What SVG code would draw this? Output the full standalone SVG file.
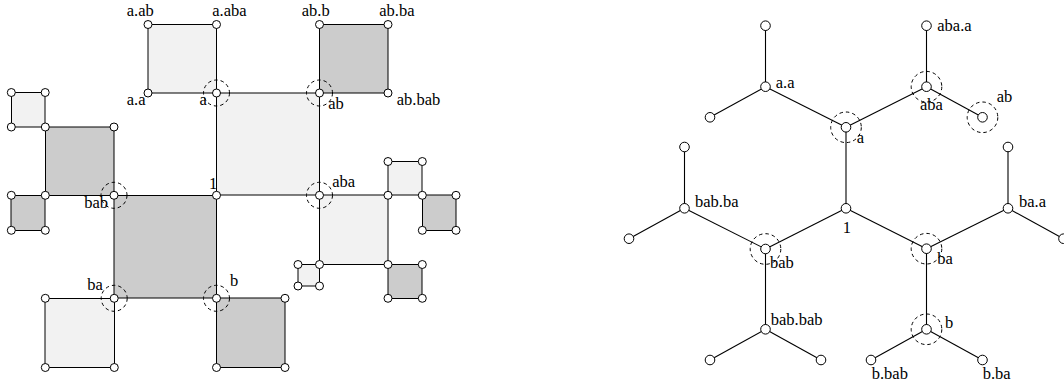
<svg xmlns="http://www.w3.org/2000/svg" width="1064" height="385" viewBox="0 0 1064 385">
<style>
.fl{fill:#f2f2f2;stroke:none}
.fd{fill:#cccccc;stroke:none}
.e{fill:none;stroke:#000;stroke-width:1}
.t{fill:none;stroke:#000;stroke-width:1.1}
.n{fill:#fff;stroke:#000;stroke-width:1}
.hl{fill:none;stroke:#000;stroke-width:1;stroke-dasharray:3.5 3}
text{font-family:"Liberation Serif","Times New Roman",serif;font-size:16.5px;fill:#000}
</style>
<g id="faces">
<rect class="fl" x="216.5" y="93" width="103" height="102"/>
<rect class="fd" x="114" y="195.5" width="102.5" height="102.5"/>
<rect class="fl" x="148" y="24.5" width="68.5" height="68.5"/>
<rect class="fd" x="319.5" y="24.5" width="68.5" height="68.5"/>
<rect class="fd" x="45.5" y="127" width="68.5" height="68.5"/>
<rect class="fl" x="45" y="298.5" width="69.5" height="69"/>
<rect class="fl" x="319.5" y="195" width="68.5" height="69.5"/>
<rect class="fd" x="216.5" y="298" width="68.5" height="69.5"/>
<rect class="fl" x="11.5" y="92.5" width="33.5" height="34.5"/>
<rect class="fd" x="11" y="195.5" width="34" height="35"/>
<rect class="fl" x="388" y="161.5" width="34" height="33.5"/>
<rect class="fd" x="422.5" y="195" width="33.5" height="35.5"/>
<rect class="fd" x="388" y="264.5" width="34" height="34"/>
<rect class="fl" x="298" y="264.5" width="21.5" height="21.5"/>
</g>
<g id="connectors">
<path class="e" d="M216.5 93H319.5V195H216.5Z"/>
<path class="e" d="M114 195.5H216.5V298H114Z"/>
<path class="e" d="M148 24.5H216.5V93H148Z"/>
<path class="e" d="M319.5 24.5H388V93H319.5Z"/>
<path class="e" d="M45.5 127H114V195.5H45.5Z"/>
<path class="e" d="M45 298.5H114.5V367.5H45Z"/>
<path class="e" d="M319.5 195H388V264.5H319.5Z"/>
<path class="e" d="M216.5 298H285V367.5H216.5Z"/>
<path class="e" d="M11.5 92.5H45V127H11.5Z"/>
<path class="e" d="M11 195.5H45V230.5H11Z"/>
<path class="e" d="M388 161.5H422V195H388Z"/>
<path class="e" d="M422.5 195H456V230.5H422.5Z"/>
<path class="e" d="M388 264.5H422V298.5H388Z"/>
<path class="e" d="M298 264.5H319.5V286H298Z"/>
<line class="t" x1="846" y1="208.3" x2="846" y2="127.3"/>
<line class="t" x1="846" y1="208.3" x2="765.5" y2="249"/>
<line class="t" x1="846" y1="208.3" x2="926.5" y2="248.7"/>
<line class="t" x1="846" y1="127.3" x2="765.5" y2="86.7"/>
<line class="t" x1="846" y1="127.3" x2="926.5" y2="86.7"/>
<line class="t" x1="765.5" y1="86.7" x2="765.5" y2="25.7"/>
<line class="t" x1="765.5" y1="86.7" x2="710" y2="117.3"/>
<line class="t" x1="926.5" y1="86.7" x2="926.5" y2="25.7"/>
<line class="t" x1="926.5" y1="86.7" x2="982.5" y2="117.3"/>
<line class="t" x1="765.5" y1="249" x2="684.5" y2="208.3"/>
<line class="t" x1="765.5" y1="249" x2="765.5" y2="329.3"/>
<line class="t" x1="684.5" y1="208.3" x2="684.5" y2="147"/>
<line class="t" x1="684.5" y1="208.3" x2="629" y2="238.7"/>
<line class="t" x1="765.5" y1="329.3" x2="710" y2="360"/>
<line class="t" x1="765.5" y1="329.3" x2="821" y2="360"/>
<line class="t" x1="926.5" y1="248.7" x2="1008" y2="208.3"/>
<line class="t" x1="926.5" y1="248.7" x2="926.5" y2="329.3"/>
<line class="t" x1="1008" y1="208.3" x2="1008" y2="147"/>
<line class="t" x1="1008" y1="208.3" x2="1063.5" y2="238.7"/>
<line class="t" x1="926.5" y1="329.3" x2="871" y2="360"/>
<line class="t" x1="926.5" y1="329.3" x2="982.5" y2="360"/>
</g>
<g id="left-nodes">
<g id="L-a.ab"><circle class="n" cx="148" cy="24.5" r="4"/><text x="126.7" y="15.5">a.ab</text></g>
<g id="L-a.aba"><circle class="n" cx="216.5" cy="24.5" r="4"/><text x="212.3" y="15.5">a.aba</text></g>
<g id="L-ab.b"><circle class="n" cx="319.5" cy="24.5" r="4"/><text x="301.7" y="15.5">ab.b</text></g>
<g id="L-ab.ba"><circle class="n" cx="388" cy="24.5" r="4"/><text x="379.3" y="15.5">ab.ba</text></g>
<g id="L-a.a"><circle class="n" cx="148" cy="93" r="4"/><text x="126.7" y="104.5">a.a</text></g>
<g id="L-a"><circle class="hl" cx="216.5" cy="93" r="13"/><circle class="n" cx="216.5" cy="93" r="4"/><text x="199.5" y="104.5">a</text></g>
<g id="L-ab"><circle class="hl" cx="319.5" cy="93" r="13"/><circle class="n" cx="319.5" cy="93" r="4"/><text x="328.3" y="108.5">ab</text></g>
<g id="L-ab.bab"><circle class="n" cx="388" cy="93" r="4"/><text x="396.7" y="105.3">ab.bab</text></g>
<g id="L-n1"><circle class="n" cx="11.3" cy="92.5" r="4"/></g>
<g id="L-n2"><circle class="n" cx="45.2" cy="92.5" r="4"/></g>
<g id="L-n3"><circle class="n" cx="11.3" cy="127" r="4"/></g>
<g id="L-n4"><circle class="n" cx="45.3" cy="127" r="4"/></g>
<g id="L-n5"><circle class="n" cx="114" cy="127" r="4"/></g>
<g id="L-n6"><circle class="n" cx="388" cy="161.5" r="4"/></g>
<g id="L-n7"><circle class="n" cx="422.3" cy="161.5" r="4"/></g>
<g id="L-n8"><circle class="n" cx="11.3" cy="195.3" r="4"/></g>
<g id="L-n9"><circle class="n" cx="45.3" cy="195.3" r="4"/></g>
<g id="L-bab"><circle class="hl" cx="114" cy="195.3" r="13"/><circle class="n" cx="114" cy="195.3" r="4"/><text x="84.3" y="208.3">bab</text></g>
<g id="L-1"><circle class="n" cx="216.5" cy="195.3" r="4"/><text x="209" y="189.3">1</text></g>
<g id="L-aba"><circle class="hl" cx="319.5" cy="195.3" r="13"/><circle class="n" cx="319.5" cy="195.3" r="4"/><text x="332.3" y="186.7">aba</text></g>
<g id="L-n10"><circle class="n" cx="388" cy="195.3" r="4"/></g>
<g id="L-n11"><circle class="n" cx="422.3" cy="195.3" r="4"/></g>
<g id="L-n12"><circle class="n" cx="456" cy="195.3" r="4"/></g>
<g id="L-n13"><circle class="n" cx="11.3" cy="230.3" r="4"/></g>
<g id="L-n14"><circle class="n" cx="45.3" cy="230.3" r="4"/></g>
<g id="L-n15"><circle class="n" cx="422.3" cy="230.3" r="4"/></g>
<g id="L-n16"><circle class="n" cx="456" cy="230.3" r="4"/></g>
<g id="L-n17"><circle class="n" cx="298" cy="264.5" r="4"/></g>
<g id="L-n18"><circle class="n" cx="319.5" cy="264.5" r="4"/></g>
<g id="L-n19"><circle class="n" cx="388" cy="264.5" r="4"/></g>
<g id="L-n20"><circle class="n" cx="422.3" cy="264.5" r="4"/></g>
<g id="L-n21"><circle class="n" cx="298" cy="286" r="4"/></g>
<g id="L-n22"><circle class="n" cx="319.5" cy="286" r="4"/></g>
<g id="L-n23"><circle class="n" cx="45.3" cy="298.3" r="4"/></g>
<g id="L-ba"><circle class="hl" cx="114.2" cy="298.3" r="13"/><circle class="n" cx="114.2" cy="298.3" r="4"/><text x="87.3" y="290">ba</text></g>
<g id="L-b"><circle class="hl" cx="216.5" cy="298.3" r="13"/><circle class="n" cx="216.5" cy="298.3" r="4"/><text x="230" y="286">b</text></g>
<g id="L-n24"><circle class="n" cx="285" cy="298.3" r="4"/></g>
<g id="L-n25"><circle class="n" cx="388" cy="298.3" r="4"/></g>
<g id="L-n26"><circle class="n" cx="422.3" cy="298.3" r="4"/></g>
<g id="L-n27"><circle class="n" cx="45.3" cy="367.5" r="4"/></g>
<g id="L-n28"><circle class="n" cx="114.3" cy="367.5" r="4"/></g>
<g id="L-n29"><circle class="n" cx="216.5" cy="367.5" r="4"/></g>
<g id="L-n30"><circle class="n" cx="285" cy="367.5" r="4"/></g>
</g>
<g id="tree-nodes">
<g id="T-1"><circle class="n" cx="846" cy="208.3" r="4.8"/><text x="842.7" y="233.3">1</text></g>
<g id="T-a"><circle class="hl" cx="846" cy="127.3" r="15.3"/><circle class="n" cx="846" cy="127.3" r="4.8"/><text x="856.7" y="142.7">a</text></g>
<g id="T-a.a"><circle class="n" cx="765.5" cy="86.7" r="4.8"/><text x="775.7" y="88">a.a</text></g>
<g id="T-l1"><circle class="n" cx="765.5" cy="25.7" r="4.8"/></g>
<g id="T-l2"><circle class="n" cx="710" cy="117.3" r="4.8"/></g>
<g id="T-aba"><circle class="hl" cx="926.5" cy="86.7" r="15.3"/><circle class="n" cx="926.5" cy="86.7" r="4.8"/><text x="920" y="110">aba</text></g>
<g id="T-aba.a"><circle class="n" cx="926.5" cy="25.7" r="4.8"/><text x="937.3" y="30.7">aba.a</text></g>
<g id="T-ab"><circle class="hl" cx="982.5" cy="117.3" r="15.3"/><circle class="n" cx="982.5" cy="117.3" r="4.8"/><text x="996.7" y="101.7">ab</text></g>
<g id="T-bab"><circle class="hl" cx="765.5" cy="249" r="15.3"/><circle class="n" cx="765.5" cy="249" r="4.8"/><text x="770" y="268.3">bab</text></g>
<g id="T-bab.ba"><circle class="n" cx="684.5" cy="208.3" r="4.8"/><text x="695" y="207.3">bab.ba</text></g>
<g id="T-l3"><circle class="n" cx="684.5" cy="147" r="4.8"/></g>
<g id="T-l4"><circle class="n" cx="629" cy="238.7" r="4.8"/></g>
<g id="T-bab.bab"><circle class="n" cx="765.5" cy="329.3" r="4.8"/><text x="770.7" y="325">bab.bab</text></g>
<g id="T-l5"><circle class="n" cx="710" cy="360" r="4.8"/></g>
<g id="T-l6"><circle class="n" cx="821" cy="360" r="4.8"/></g>
<g id="T-ba"><circle class="hl" cx="926.5" cy="248.7" r="15.3"/><circle class="n" cx="926.5" cy="248.7" r="4.8"/><text x="937.3" y="264">ba</text></g>
<g id="T-ba.a"><circle class="n" cx="1008" cy="208.3" r="4.8"/><text x="1019" y="207.3">ba.a</text></g>
<g id="T-l7"><circle class="n" cx="1008" cy="147" r="4.8"/></g>
<g id="T-l8"><circle class="n" cx="1063.5" cy="238.7" r="4.8"/></g>
<g id="T-b"><circle class="hl" cx="926.5" cy="329.3" r="15.3"/><circle class="n" cx="926.5" cy="329.3" r="4.8"/><text x="945" y="328.3">b</text></g>
<g id="T-b.bab"><circle class="n" cx="871" cy="360" r="4.8"/><text x="871.7" y="379.3">b.bab</text></g>
<g id="T-b.ba"><circle class="n" cx="982.5" cy="360" r="4.8"/><text x="982.7" y="379.3">b.ba</text></g>
</g>
</svg>
